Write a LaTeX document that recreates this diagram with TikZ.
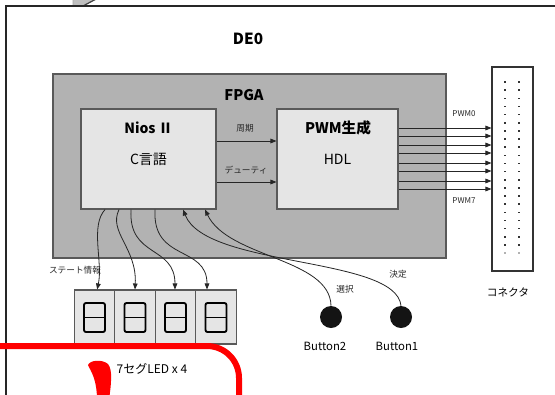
\documentclass[tikz,border=0pt]{standalone}
\usepackage{fontspec}
\setmainfont{Noto Sans CJK JP}
\usetikzlibrary{arrows.meta,positioning}

\tikzset{
  arr/.style={draw=black!85, line width=0.6pt, -{Triangle[length=4.5pt,width=3.5pt]}},
  lightbox/.style={draw=black!65, line width=0.8pt, fill=black!10, inner sep=0pt},
  seglabel/.style={font=\fontsize{6.5}{7}\selectfont, text=black!85},
  digit/.style={draw=black, line width=1.4pt, rounded corners=1.5pt}
}

\begin{document}
\begin{tikzpicture}[x=0.75pt,y=0.75pt,yscale=-1,xscale=1]
	\clip (0,0) rectangle (555,394);
	\fill[white] (0,0) rectangle (555,394);
	
	%Shape: grey arrow at the top edge
	\filldraw[fill=black!25, draw=black!35, line width=0.4pt] (73,-2) -- (73,6) -- (83,6) -- (98,-2) -- cycle;
	\draw[black!75, line width=0.9pt] (83,6) -- (98,-2);
	%Shape: DE0 board
	\draw[black!85, line width=1.5pt] (6,410) -- (6,6) -- (570,6);
	% Text Node
	\draw (248,39) node (de0) [font=\bfseries\fontsize{11.5}{12}\selectfont] {DE0};
	
	%Shape: FPGA
	\node (fpga) [draw=black!65, line width=0.9pt, fill=black!30, minimum width=294.75pt, minimum height=138pt] at (249.5,166) {};
	\draw (244,95) node (fpgalbl) [font=\bfseries\fontsize{11}{12}\selectfont] {FPGA};
	
	%Shape: Nios II
	\node (nios) [lightbox, minimum width=101.25pt, minimum height=75pt] at (148.5,159) {};
	\draw (148.5,128) node (niosname) [font=\bfseries\fontsize{10.5}{12}\selectfont] {Nios Ⅱ};
	\draw (148.5,159) node (nioslang) [font=\fontsize{10.5}{12}\selectfont] {C言語};
	
	%Shape: PWM block
	\node (pwm) [lightbox, minimum width=90.75pt, minimum height=75pt] at (337.5,159) {};
	\draw (338,128) node (pwmname) [font=\bfseries\fontsize{11}{12}\selectfont] {PWM生成};
	\draw (337.5,159) node (pwmlang) [font=\fontsize{10.5}{12}\selectfont] {HDL};
	
	%Straight Lines: period / duty
	\draw[arr] (nios.east |- 0,141) -- (pwm.west |- 0,141);
	\draw[arr] (nios.east |- 0,182) -- (pwm.west |- 0,182);
	\draw (245,128) node (period) [seglabel] {周期};
	\draw (246,170) node (duty) [seglabel] {デューティ};
	
	%Shape: connector
	\node (conn) [draw=black!80, line width=0.8pt, fill=white, minimum width=30.75pt, minimum height=153pt] at (512.5,169) {};
	\foreach \i in {0,...,20} {
		\fill[black!80] (504.3,{81.3+\i*8.14}) rectangle ++(1.6,1.6);
		\fill[black!80] (518.3,{81.3+\i*8.14}) rectangle ++(1.6,1.6);
	}
	\fill[black!30] (504.3,252.2) rectangle ++(1.6,1.6);
	\fill[black!30] (518.3,252.2) rectangle ++(1.6,1.6);
	\draw (508,292) node (connlbl) [font=\fontsize{8}{9}\selectfont] {コネクタ};
	
	%Straight Lines: PWM0 ... PWM7
	\foreach \y in {128,136,145,153,163,171,181,189} {
		\draw[arr] (pwm.east |- 0,\y) -- (conn.west |- 0,\y);
	}
	\draw (464,114) node (pwm0) [font=\fontsize{6}{7}\selectfont, text=black!85] {PWM0};
	\draw (464,201) node (pwm7) [font=\fontsize{6}{7}\selectfont, text=black!85] {PWM7};
	
	%Shape: 7 segment LEDs
	\foreach \n/\x in {1/94.5,2/135,3/175.5,4/216} {
		\node (seg\n) [draw=black!65, line width=0.8pt, fill=black!10, minimum width=30.4pt, minimum height=40.5pt, inner sep=0pt] at (\x,317) {};
		\draw[digit] (\x-10.5,303) rectangle (\x+10.5,332);
		\draw[black, line width=1.4pt] (\x-10.5,317.5) -- (\x+10.5,317.5);
	}
	\draw (75,270) node (state) [seglabel] {ステート情報};
	\draw (152,369) node (seglbl) [font=\fontsize{9}{10}\selectfont] {7セグLED x 4};
	
	%Curves: Nios II -> LEDs
	\draw[arr] ([xshift=-32.6pt]nios.south) .. controls (90,226) and (103,262) .. ([xshift=2pt]seg1.north);
	\draw[arr] ([xshift=-22.1pt]nios.south) .. controls (108,232) and (137,248) .. (seg2.north);
	\draw[arr] ([xshift=-13.1pt]nios.south) .. controls (128,258) and (175,245) .. ([xshift=-0.4pt]seg3.north);
	\draw[arr] ([xshift=4.9pt]nios.south) .. controls (152,262) and (207,245) .. ([xshift=-6.75pt]seg4.north);
	
	%Shape: buttons
	\node (btn2) [circle, fill=black!92, minimum size=16.5pt, inner sep=0pt] at (331,317) {};
	\node (btn1) [circle, fill=black!92, minimum size=16.5pt, inner sep=0pt] at (401,317) {};
	\draw (325,346) node (btn2lbl) [font=\fontsize{8.5}{10}\selectfont] {Button2};
	\draw (397,346) node (btn1lbl) [font=\fontsize{8.5}{10}\selectfont] {Button1};
	\draw (345,289) node (select) [seglabel] {選択};
	\draw (398,274) node (decide) [seglabel] {決定};
	
	%Curves: buttons -> Nios II
	\draw[arr] (btn2.north) .. controls (330,258) and (228,258) .. ([xshift=42.4pt]nios.south);
	\draw[arr] (btn1.north) .. controls (396,256) and (206,268) .. ([xshift=25.9pt]nios.south);
	
	%Shape: red marking
	\draw[red, line width=4.5pt, rounded corners=24pt] (-10,346) -- (239,346) -- (239,410);
	\fill[red] (97,400) .. controls (97,378) and (90,370) .. (88,365) .. controls (90,360) and (102,359) .. (108,364) .. controls (113,370) and (111,385) .. (109,400) -- cycle;
	
\end{tikzpicture}
\end{document}
